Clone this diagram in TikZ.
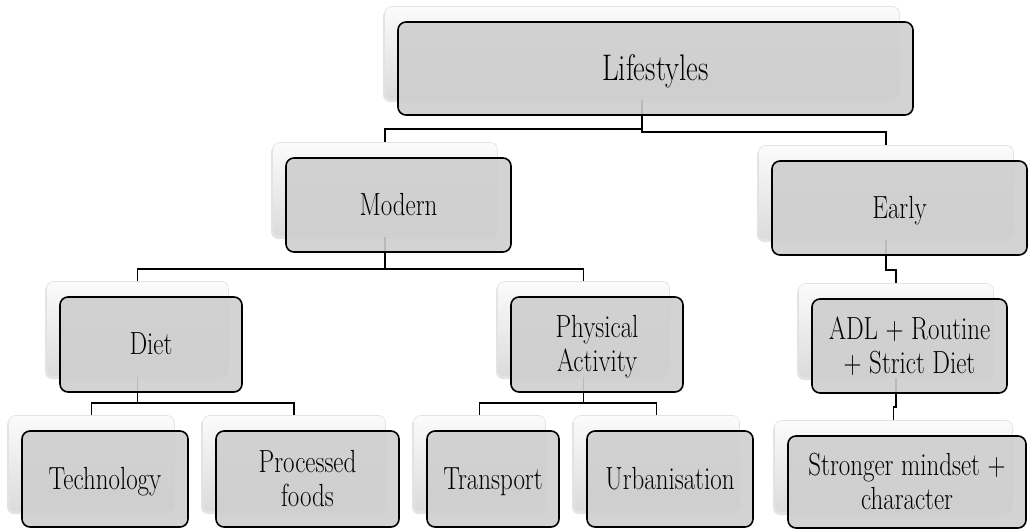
\documentclass[tikz,border=0pt]{standalone}
\usepackage{fontspec}
\newcommand\sq[1]{\raisebox{-3.5pt}[\height][\depth]{\scalebox{0.78}[1]{\begin{tabular}{@{}c@{}}#1\end{tabular}}}}
\usetikzlibrary{shadows}
\begin{document}
\begin{tikzpicture}[x=1pt,y=-1pt,
  backbox/.style={rectangle, rounded corners=7pt, draw=gray!22, line width=0.6pt,
    top color=gray!3, bottom color=gray!28,
    drop shadow={shadow xshift=-1.5pt, shadow yshift=-2.5pt, opacity=0.22}},
  frontbox/.style={rectangle, rounded corners=8pt, draw=black, line width=1.6pt,
    fill={rgb,255:red,206;green,206;blue,206}, fill opacity=0.9, text opacity=1,
    text=black, font=\fontsize{32}{34}\selectfont\addfontfeatures{FakeBold=0.8}, align=center, inner sep=0pt},
  bigtext/.style={font=\fontsize{37}{40}\selectfont\addfontfeatures{FakeBold=0.8}},
  conn/.style={draw=black, line width=1.8pt}]
\useasboundingbox (0,0) rectangle (1031,530);
% back (shadow) boxes
\node[backbox, minimum width=515pt, minimum height=93pt] (lifeB) at (655.5-13.5,68.5-15.5) {};
\node[backbox, minimum width=225pt, minimum height=94pt] (modernB) at (398.5-13.5,205-15.5) {};
\node[backbox, minimum width=255pt, minimum height=94pt] (earlyB) at (899.5-13.5,208-15.5) {};
\node[backbox, minimum width=182pt, minimum height=95pt] (dietB) at (151-13.5,344.5-15.5) {};
\node[backbox, minimum width=172pt, minimum height=95pt] (physB) at (597-13.5,344.5-15.5) {};
\node[backbox, minimum width=195pt, minimum height=94pt] (adlB) at (909.5-13.5,346-15.5) {};
\node[backbox, minimum width=166pt, minimum height=96pt] (techB) at (105-13.5,479-15.5) {};
\node[backbox, minimum width=183pt, minimum height=96pt] (procB) at (307.5-13.5,479-15.5) {};
\node[backbox, minimum width=132pt, minimum height=96pt] (transB) at (493-13.5,479-15.5) {};
\node[backbox, minimum width=166pt, minimum height=96pt] (urbanB) at (670-13.5,479-15.5) {};
\node[backbox, minimum width=238pt, minimum height=92pt] (strongB) at (907-13.5,482-15.5) {};
% connectors
\draw[conn] (lifeB.south) -- ++(0,29) -| (modernB.north);
\draw[conn] (lifeB.south) -- ++(0,32) -| (earlyB.north);
\draw[conn] (modernB.south) -- ++(0,32) -| (dietB.north);
\draw[conn] (modernB.south) -- ++(0,32) -| (physB.north);
\draw[conn] (dietB.south) -- ++(0,26) -| (techB.north);
\draw[conn] (dietB.south) -- ++(0,26) -| (procB.north);
\draw[conn] (physB.south) -- ++(0,26) -| (transB.north);
\draw[conn] (physB.south) -- ++(0,26) -| (urbanB.north);
\draw[conn] (earlyB.south) -- ++(0,30) -| (adlB.north);
\draw[conn] (adlB.south) -- ++(0,29) -| (strongB.north);
% front boxes
\node[frontbox, bigtext, minimum width=515pt, minimum height=93pt] (life) at (655.5,68.5) {\sq{Lifestyles}};
\node[frontbox, minimum width=225pt, minimum height=94pt] (modern) at (398.5,205) {\sq{Modern}};
\node[frontbox, minimum width=255pt, minimum height=94pt] (early) at (899.5,208) {\sq{Early}};
\node[frontbox, minimum width=182pt, minimum height=95pt] (diet) at (151,344.5) {\sq{Diet}};
\node[frontbox, minimum width=172pt, minimum height=95pt] (phys) at (597,344.5) {\sq{Physical\\Activity}};
\node[frontbox, minimum width=195pt, minimum height=94pt] (adl) at (909.5,346) {\sq{ADL + Routine\\+ Strict Diet}};
\node[frontbox, minimum width=166pt, minimum height=96pt] (tech) at (105,479) {\sq{Technology}};
\node[frontbox, minimum width=183pt, minimum height=96pt] (proc) at (307.5,479) {\sq{Processed\\foods}};
\node[frontbox, minimum width=132pt, minimum height=96pt] (trans) at (493,479) {\sq{Transport}};
\node[frontbox, minimum width=166pt, minimum height=96pt] (urban) at (670,479) {\sq{Urbanisation}};
\node[frontbox, minimum width=238pt, minimum height=92pt] (strong) at (907,482) {\sq{Stronger mindset +\\character}};
\end{tikzpicture}
\end{document}
